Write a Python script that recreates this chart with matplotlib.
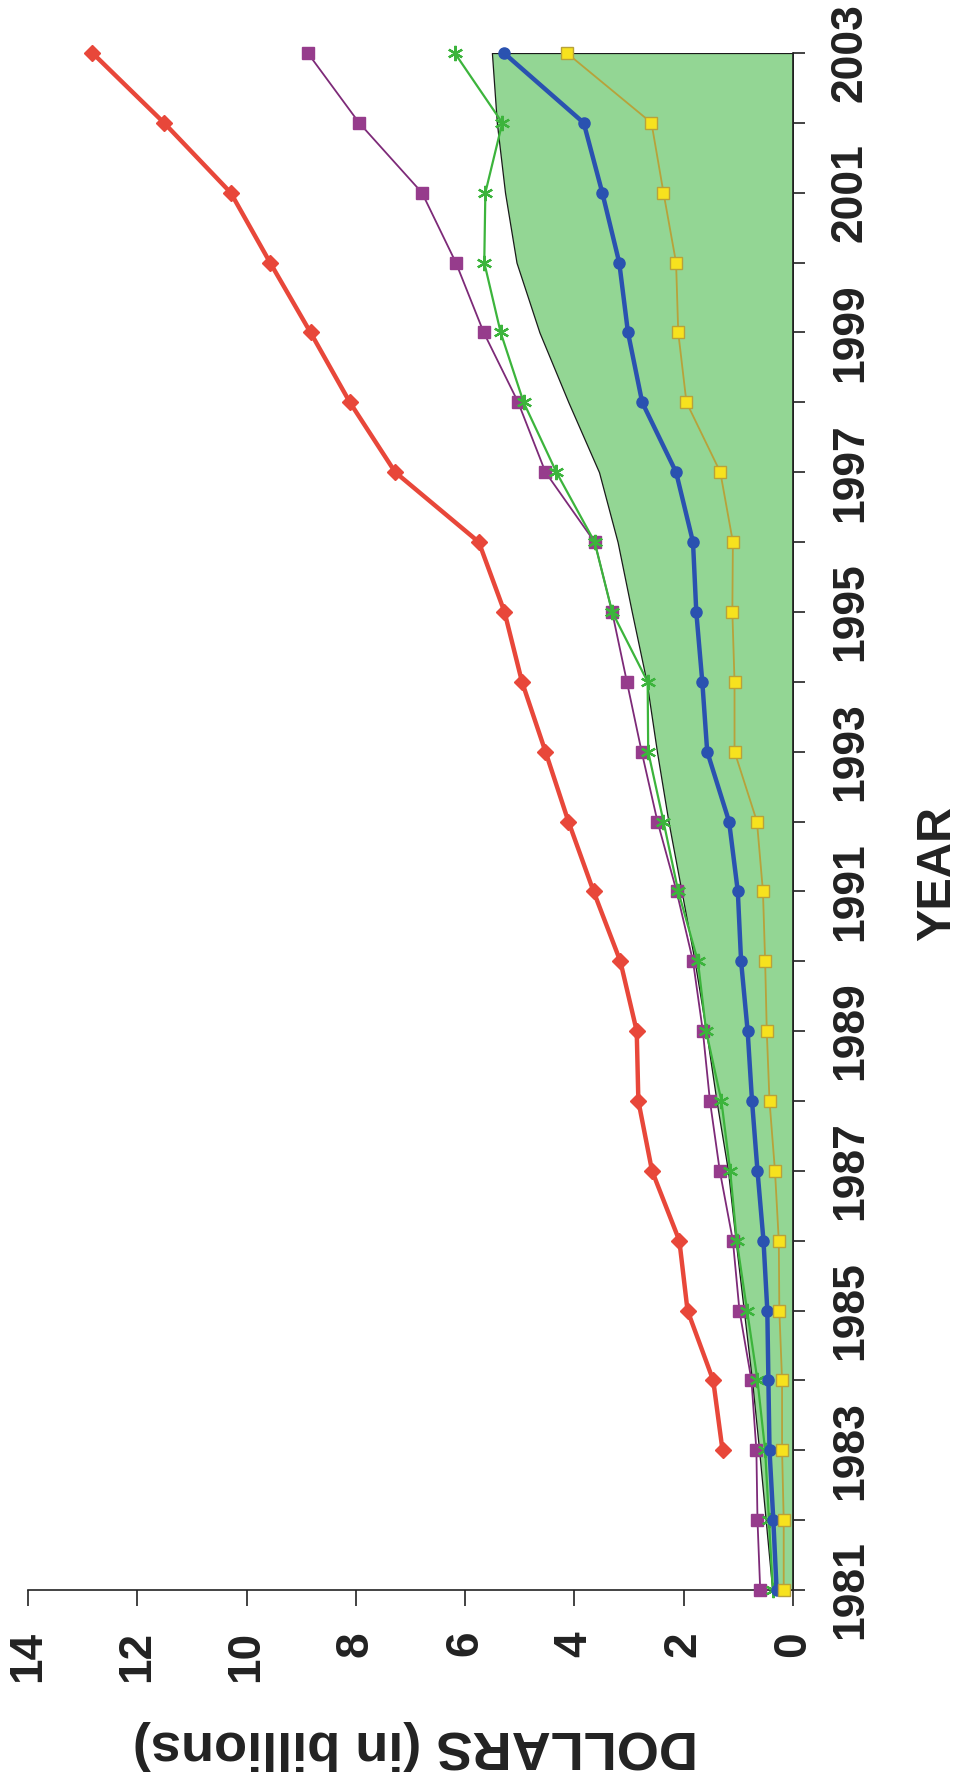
import numpy as np
import matplotlib
matplotlib.use("Agg")
import matplotlib.pyplot as plt

# ---- data ----
years = list(range(1981, 2004))
year_labels = [str(y) if (y - 1981) % 2 == 0 else "" for y in years]
dollar_ticks = [0, 2, 4, 6, 8, 10, 12, 14]

red_diamond = [np.nan, np.nan, 1.29, 1.46, 1.93, 2.08, 2.58, 2.83, 2.86, 3.16, 3.65,
               4.11, 4.53, 4.96, 5.28, 5.75, 7.28, 8.11, 8.83, 9.57, 10.29, 11.51, 12.82]
purple_square = [0.60, 0.65, 0.67, 0.76, 0.98, 1.10, 1.34, 1.52, 1.65, 1.83, 2.13,
                 2.48, 2.77, 3.04, 3.31, 3.63, 4.53, 5.03, 5.66, 6.17, 6.79, 7.94, 8.88]
green_star = [0.37, 0.44, 0.51, 0.65, 0.84, 1.03, 1.15, 1.31, 1.59, 1.74, 2.10,
              2.37, 2.65, 2.66, 3.31, 3.63, 4.33, 4.93, 5.35, 5.65, 5.63, 5.32, 6.19]
blue_circle = [0.30, 0.36, 0.43, 0.45, 0.47, 0.54, 0.65, 0.75, 0.83, 0.95, 1.01,
               1.17, 1.57, 1.66, 1.77, 1.83, 2.14, 2.76, 3.02, 3.18, 3.49, 3.83, 5.29]
yellow_square = [0.17, 0.17, 0.20, 0.20, 0.25, 0.26, 0.33, 0.43, 0.48, 0.51, 0.55,
                 0.66, 1.07, 1.07, 1.11, 1.10, 1.33, 1.95, 2.10, 2.14, 2.37, 2.59, 4.14]
green_area = [0.38, 0.50, 0.62, 0.75, 0.90, 1.05, 1.19, 1.40, 1.59, 1.80, 2.04,
              2.28, 2.49, 2.68, 2.95, 3.21, 3.55, 4.11, 4.64, 5.06, 5.27, 5.42, 5.51]

TXT = "#222222"
plt.rcParams['font.family'] = ['Liberation Sans', 'DejaVu Sans']
plt.rcParams['font.weight'] = 'bold'

fig = plt.figure(figsize=(9.63, 17.78), dpi=100)
ax = fig.add_axes([28/963, 1 - 1590/1778, (793-28)/963, (1590-53)/1778])

ax.fill_betweenx(years, 0, green_area, facecolor="#93d694", edgecolor="#1a1a1a",
                 linewidth=0.9, zorder=1)

ax.plot(red_diamond, years, color="#e8473a", lw=3.2, marker="D", ms=8,
        mfc="#e8473a", mec="#e8473a", zorder=3, clip_on=False)
ax.plot(purple_square, years, color="#7d2a78", lw=1.3, marker="s", ms=9,
        mfc="#963c8c", mec="#963c8c", zorder=3, clip_on=False)
ax.plot(green_star, years, color="#3cb43c", lw=1.6, marker=(6, 2, 0), ms=11,
        mew=1.6, mec="#3cb43c", zorder=4, clip_on=False)
ax.plot(blue_circle, years, color="#2a52b0", lw=3.2, marker="o", ms=8,
        mfc="#2a52b0", mec="#2a52b0", zorder=5, clip_on=False)
ax.plot(yellow_square, years, color="#b8a23a", lw=1.3, marker="s", ms=8,
        mfc="#f7e21e", mec="#b8a23a", mew=1.0, zorder=6, clip_on=False)

ax.set_xlim(14, 0)
ax.set_ylim(1981, 2003)

for s in ("top", "left"):
    ax.spines[s].set_visible(False)
for s in ("right", "bottom"):
    ax.spines[s].set_linewidth(1.2)
    ax.spines[s].set_color(TXT)

ax.yaxis.tick_right()
ax.set_yticks(years)
ax.set_yticklabels(year_labels, rotation=90, va="center", ha="left",
                   fontsize=32, fontweight="bold", color=TXT)
ax.set_xticks(dollar_ticks)
ax.set_xticklabels([str(t) for t in dollar_ticks], rotation=90, ha="center", va="top",
                   fontsize=33, fontweight="bold", color=TXT)
ax.tick_params(axis="y", direction="out", length=8.5, width=1.2, color=TXT, pad=18)
ax.tick_params(axis="x", direction="out", length=11.5, width=1.2, color=TXT, pad=18)

fig.text(415/963, 1 - 1745/1778, "DOLLARS (in billions)", rotation=180,
         ha="center", va="center", fontsize=39, fontweight="bold", color=TXT)
fig.text(938/963, 1 - 873/1778, "YEAR", rotation=90,
         ha="center", va="center", fontsize=35, fontweight="bold", color=TXT)

fig.savefig("out.png", dpi=100, facecolor="white")
